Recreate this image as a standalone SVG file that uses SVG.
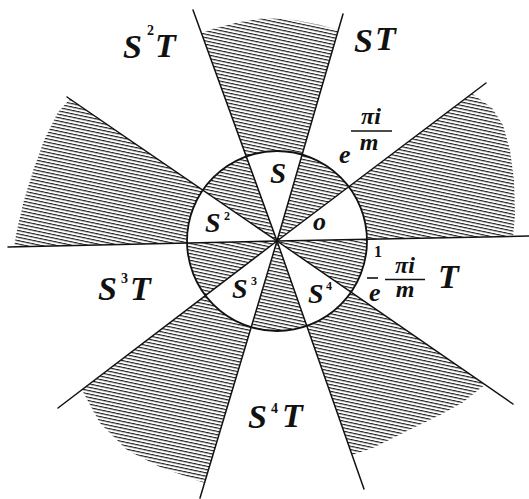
<svg xmlns="http://www.w3.org/2000/svg" width="529" height="499" viewBox="0 0 529 499">
<defs>
<pattern id="h" width="10" height="3.3" patternUnits="userSpaceOnUse" patternTransform="rotate(12)">
<rect width="10" height="1.15" fill="#1a1a1a"/>
</pattern>
<style>
.ht{fill:url(#h);stroke:none}
.ln{stroke:#111;stroke-width:1.5;fill:none;stroke-linecap:round}
.t{font-family:"Liberation Serif","DejaVu Serif",serif;font-style:italic;font-weight:bold;fill:#111}
.sup{font-family:"Liberation Serif","DejaVu Serif",serif;font-weight:bold;fill:#111}
</style>
</defs>
<rect width="529" height="499" fill="#fff"/>
<g id="hatch-inner">
<path class="ht" d="M277 241 L348.8 186.7 A90 90 0 0 0 302.1 154.6 Z"/>
<path class="ht" d="M277 241 L246.2 156.4 A90 90 0 0 0 202.8 190.1 Z"/>
<path class="ht" d="M277 241 L187 243 A90 90 0 0 0 205.4 295.6 Z"/>
<path class="ht" d="M277 241 L251.2 327.2 A90 90 0 0 0 306.8 325.9 Z"/>
<path class="ht" d="M277 241 L351.1 292.1 A90 90 0 0 0 367 239.2 Z"/>
</g>
<g id="hatch-outer">
<path class="ht" d="M367 239.2 L513 236.4 L515 215 L514 180 L510 150 L503 125 L492 108 L472 93.6 L348.8 186.7 A90 90 0 0 1 367 239.2 Z"/>
<path class="ht" d="M302.1 154.6 L338.3 30 L320 25 L295 20 L265 18 L240 22 L215 28 L201.4 33 L246.2 156.4 A90 90 0 0 1 302.1 154.6 Z"/>
<path class="ht" d="M202.8 190.1 L70 99 L58 112 L45 138 L34 168 L24 200 L17 230 L14 246.9 L187 243 A90 90 0 0 1 202.8 190.1 Z"/>
<path class="ht" d="M205.4 295.6 L82 389.7 L90 405 L100 423 L127 450 L160 467 L204.5 483 L251.2 327.2 A90 90 0 0 1 205.4 295.6 Z"/>
<path class="ht" d="M306.8 325.9 L352.1 455 L375 447 L405 432 L440 415 L462 403 L485 384.7 L351.1 292.1 A90 90 0 0 1 306.8 325.9 Z"/>
</g>
<g id="connectors">
<line class="ln" x1="277" y1="241" x2="529" y2="236"/>
<line class="ln" x1="277" y1="241" x2="486" y2="83"/>
<line class="ln" x1="277" y1="241" x2="343" y2="14"/>
<line class="ln" x1="277" y1="241" x2="193" y2="10"/>
<line class="ln" x1="277" y1="241" x2="67" y2="97"/>
<line class="ln" x1="277" y1="241" x2="8" y2="247"/>
<line class="ln" x1="277" y1="241" x2="58" y2="408"/>
<line class="ln" x1="277" y1="241" x2="200" y2="498"/>
<line class="ln" x1="277" y1="241" x2="364" y2="489"/>
<line class="ln" x1="277" y1="241" x2="513" y2="404"/>
</g>
<g id="circle">
<circle cx="277" cy="241" r="90" fill="none" stroke="#111" stroke-width="1.8"/>
</g>
<g id="labels">
<text class="t" x="278" y="183" font-size="29" text-anchor="middle">S</text>
<text class="t" x="313" y="230" font-size="26">o</text>
<text class="t" x="205" y="232" font-size="28">S</text><text class="sup" x="224" y="220" font-size="12">2</text>
<text class="t" x="232" y="298" font-size="28">S</text><text class="sup" x="251" y="285" font-size="12">3</text>
<text class="t" x="308" y="303" font-size="28">S</text><text class="sup" x="326" y="290" font-size="12">4</text>
<text class="t" x="354" y="52" font-size="34">S</text><text class="t" x="375" y="50" font-size="34">T</text>
<text class="t" x="123" y="58" font-size="34">S</text><text class="sup" x="147" y="35" font-size="14">2</text><text class="t" x="155" y="57" font-size="34">T</text>
<text class="t" x="98" y="300" font-size="34">S</text><text class="sup" x="121" y="283" font-size="14">3</text><text class="t" x="130" y="300" font-size="34">T</text>
<text class="t" x="248" y="428" font-size="34">S</text><text class="sup" x="271" y="413" font-size="14">4</text><text class="t" x="282" y="427" font-size="34">T</text>
<text class="t" x="438" y="288" font-size="34">T</text>
<text class="sup" x="374" y="257" font-size="16">1</text>
<text class="t" x="339" y="163" font-size="26">e</text>
<text class="t" x="371" y="124" font-size="24" text-anchor="middle">πi</text>
<line x1="351" y1="131" x2="392" y2="131" stroke="#111" stroke-width="1.3"/>
<text class="t" x="369" y="150" font-size="24" text-anchor="middle">m</text>
<line x1="367" y1="278" x2="378" y2="278" stroke="#111" stroke-width="1.6"/>
<text class="t" x="405" y="273" font-size="24" text-anchor="middle">πi</text>
<line x1="385" y1="279.5" x2="425" y2="279.5" stroke="#111" stroke-width="1.3"/>
<text class="t" x="405" y="297" font-size="24" text-anchor="middle">m</text>
<text class="t" x="369" y="301" font-size="26">e</text>
</g>
</svg>
